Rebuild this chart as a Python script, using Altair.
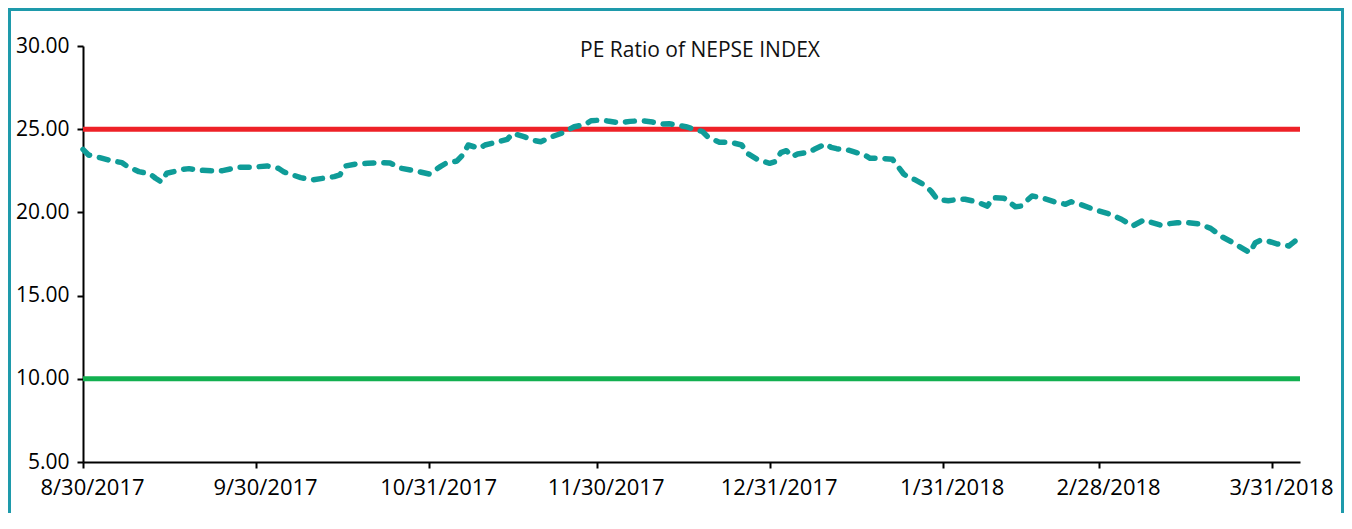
import altair as alt
import pandas as pd

# ---- data ----
dates = [
    "2017-08-30", "2017-08-31", "2017-09-02", "2017-09-04", "2017-09-06", "2017-09-07",
    "2017-09-09", "2017-09-11", "2017-09-12", "2017-09-13", "2017-09-14", "2017-09-17",
    "2017-09-18", "2017-09-20", "2017-09-22", "2017-09-24", "2017-09-26", "2017-09-27",
    "2017-09-29", "2017-10-02", "2017-10-04", "2017-10-05", "2017-10-08", "2017-10-10",
    "2017-10-12", "2017-10-14", "2017-10-15", "2017-10-16", "2017-10-18", "2017-10-20",
    "2017-10-22", "2017-10-24", "2017-10-26", "2017-10-28", "2017-10-31", "2017-11-02",
    "2017-11-03", "2017-11-05", "2017-11-06", "2017-11-07", "2017-11-09", "2017-11-10",
    "2017-11-12", "2017-11-14", "2017-11-15", "2017-11-17", "2017-11-19", "2017-11-20",
    "2017-11-22", "2017-11-24", "2017-11-26", "2017-11-28", "2017-11-29", "2017-12-01",
    "2017-12-02", "2017-12-04", "2017-12-06", "2017-12-08", "2017-12-10", "2017-12-12",
    "2017-12-13", "2017-12-16", "2017-12-17", "2017-12-19", "2017-12-20", "2017-12-22",
    "2017-12-24", "2017-12-26", "2017-12-27", "2017-12-29", "2017-12-31", "2018-01-01",
    "2018-01-02", "2018-01-03", "2018-01-04", "2018-01-05", "2018-01-07", "2018-01-08",
    "2018-01-10", "2018-01-11", "2018-01-12", "2018-01-14", "2018-01-15", "2018-01-17",
    "2018-01-18", "2018-01-20", "2018-01-22", "2018-01-23", "2018-01-24", "2018-01-25",
    "2018-01-26", "2018-01-28", "2018-01-29", "2018-01-30", "2018-02-01", "2018-02-03",
    "2018-02-04", "2018-02-06", "2018-02-08", "2018-02-09", "2018-02-11", "2018-02-13",
    "2018-02-14", "2018-02-16", "2018-02-18", "2018-02-20", "2018-02-22", "2018-02-23",
    "2018-02-25", "2018-02-27", "2018-03-02", "2018-03-04", "2018-03-06", "2018-03-08",
    "2018-03-11", "2018-03-13", "2018-03-14", "2018-03-16", "2018-03-18", "2018-03-20",
    "2018-03-22", "2018-03-24", "2018-03-26", "2018-03-27", "2018-03-28", "2018-03-29",
    "2018-03-30", "2018-04-01", "2018-04-03", "2018-04-04", "2018-04-05",
]
pe_ratio = [
    23.79, 23.45, 23.29, 23.11, 22.99, 22.75,
    22.45, 22.31, 22.05, 21.84, 22.35, 22.59,
    22.63, 22.53, 22.51, 22.51, 22.65, 22.71,
    22.71, 22.79, 22.65, 22.43, 22.09, 21.95,
    22.05, 22.15, 22.25, 22.79, 22.91, 22.95,
    22.99, 22.97, 22.65, 22.53, 22.31, 22.75,
    22.95, 23.09, 23.45, 24.05, 23.85, 24.05,
    24.21, 24.39, 24.75, 24.55, 24.31, 24.25,
    24.55, 24.79, 25.15, 25.29, 25.51, 25.55,
    25.49, 25.39, 25.47, 25.51, 25.43, 25.31,
    25.33, 25.15, 25.05, 24.85, 24.51, 24.21,
    24.21, 24.05, 23.55, 23.15, 22.95, 23.05,
    23.59, 23.71, 23.35, 23.51, 23.61, 23.79,
    24.11, 23.91, 23.83, 23.75, 23.65, 23.45,
    23.25, 23.25, 23.19, 22.75, 22.31, 22.07,
    21.97, 21.59, 21.24, 20.79, 20.70, 20.79,
    20.79, 20.64, 20.38, 20.88, 20.85, 20.34,
    20.38, 20.99, 20.85, 20.64, 20.49, 20.64,
    20.44, 20.19, 19.89, 19.59, 19.18, 19.54,
    19.24, 19.34, 19.38, 19.38, 19.30, 19.04,
    18.54, 18.18, 17.78, 17.58, 18.18, 18.34,
    18.30, 18.10, 17.98, 18.24, 18.54,
]
upper_level = [25]
lower_level = [10]
x_tick_dates = [(2017, 8, 30), (2017, 9, 30), (2017, 10, 31), (2017, 11, 30),
                (2017, 12, 31), (2018, 1, 31), (2018, 2, 28), (2018, 3, 31)]
y_ticks = [5, 10, 15, 20, 25, 30]
title_text = ["PE Ratio of NEPSE INDEX"]

FONT = "Open Sans"

df = pd.DataFrame({"date": dates, "pe": pe_ratio})


def dt(y, m, d):
    return alt.DateTime(year=y, month=m, date=d, utc=True)


x_enc = alt.X(
    "date:T",
    scale=alt.Scale(type="utc", domain=[dt(2017, 8, 30), dt(2018, 4, 5)]),
    axis=alt.Axis(
        title=None,
        values=[dt(*t) for t in x_tick_dates],
        labelExpr="utcFormat(datum.value, '%-m/%-d/%Y')",
        labelFlush=False,
        labelOverlap=False,
        labelPadding=9,
        labelOffset=9,
        labelFontSize=22,
    ),
)
y_enc = alt.Y(
    "pe:Q",
    scale=alt.Scale(domain=[5, 30], nice=False, zero=False),
    axis=alt.Axis(title=None, values=y_ticks, format=".2f", labelPadding=8),
)

base = alt.Chart(df)

line = base.mark_line(
    color="#0f9c98", strokeWidth=5.5, strokeDash=[9, 10], strokeCap="round", strokeJoin="round"
).encode(x=x_enc, y=y_enc)

red = alt.Chart(pd.DataFrame({"v": upper_level})).mark_rule(
    color="#ee2127", strokeWidth=5
).encode(y=alt.Y("v:Q", scale=alt.Scale(domain=[5, 30])))

green = alt.Chart(pd.DataFrame({"v": lower_level})).mark_rule(
    color="#12b050", strokeWidth=5
).encode(y=alt.Y("v:Q", scale=alt.Scale(domain=[5, 30])))

title = alt.Chart(pd.DataFrame({"t": title_text})).mark_text(
    font=FONT, fontSize=21, color="#111111", align="center", baseline="alphabetic"
).encode(text="t:N", x=alt.value(617), y=alt.value(11))

border = alt.Chart(pd.DataFrame({"k": [0]})).mark_rect(
    fill=None, stroke="#1e9aab", strokeWidth=3
).encode(x=alt.value(-73.5), x2=alt.value(1259.5), y=alt.value(-36.5), y2=alt.value(490))

chart = (
    alt.layer(border, red, green, line, title)
    .properties(
        width=1217,
        height=416,
        autosize="none",
        padding={"left": 75, "top": 38, "right": 44, "bottom": 51},
    )
    .configure_view(stroke=None)
    .configure_axis(
        grid=False,
        domainColor="black",
        domainWidth=2,
        tickColor="black",
        tickWidth=2,
        tickSize=6,
        labelFont=FONT,
        labelFontSize=21,
        labelColor="black",
    )
)

chart.save("out.html", embed_options={"renderer": "svg", "actions": False})
